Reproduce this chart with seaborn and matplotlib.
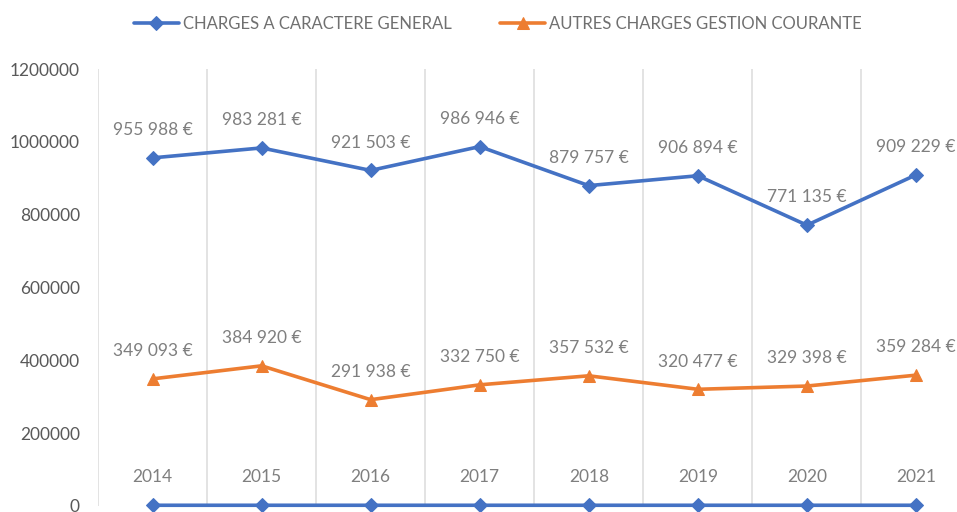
import numpy as np
import pandas as pd
import matplotlib
matplotlib.use("Agg")
import matplotlib.pyplot as plt
import seaborn as sns

# data
years = [2014, 2015, 2016, 2017, 2018, 2019, 2020, 2021]
charges_generales = [955988, 983281, 921503, 986946, 879757, 906894, 771135, 909229]
autres_charges = [349093, 384920, 291938, 332750, 357532, 320477, 329398, 359284]
y_ticks = [0, 200000, 400000, 600000, 800000, 1000000, 1200000]

label_1 = "CHARGES A CARACTERE GENERAL"
label_2 = "AUTRES CHARGES GESTION COURANTE"

blue = "#4472C4"
orange = "#ED7D31"
grey_txt = "#7F7F7F"

sns.set_style("white")
plt.rcParams["font.family"] = ["Lato", "DejaVu Sans"]

df = pd.DataFrame({
    "pos": np.arange(len(years)),
    "annee": years,
    "generales": charges_generales,
    "autres": autres_charges,
})

fig = plt.figure(figsize=(9.57, 5.12), dpi=100)
# plot area runs a bit past the right edge like the cropped original
ax = fig.add_axes([98 / 957, 6 / 512, 872.5 / 957, 437 / 512])

sns.lineplot(data=df, x="pos", y="generales", ax=ax, color=blue, marker="D",
             markersize=7, markeredgecolor=blue, linewidth=2.6, label=label_1)
sns.lineplot(data=df, x="pos", y="autres", ax=ax, color=orange, marker="^",
             markersize=9, markeredgecolor=orange, linewidth=2.6, label=label_2)
# the year column ended up plotted as a series too
sns.lineplot(data=df, x="pos", y="annee", ax=ax, color=blue, marker="D",
             markersize=7, markeredgecolor=blue, linewidth=2.6, legend=False)
for ln in ax.lines:
    ln.set_clip_on(False)


def fmt_eur(v):
    return f"{v:,}".replace(",", " ") + " €"


for i, row in df.iterrows():
    ax.annotate(fmt_eur(row["generales"]), (row["pos"], row["generales"]),
                xytext=(0, 20), textcoords="offset points", ha="center",
                va="center", fontsize=12.5, color=grey_txt)
    ax.annotate(fmt_eur(row["autres"]), (row["pos"], row["autres"]),
                xytext=(0, 20), textcoords="offset points", ha="center",
                va="center", fontsize=12.5, color=grey_txt)
    ax.annotate(str(row["annee"]), (row["pos"], row["annee"]),
                xytext=(0, 20), textcoords="offset points", ha="center",
                va="center", fontsize=12.5, color=grey_txt)

ax.set_xlim(-0.5, len(years) - 0.5)
ax.set_ylim(0, 1200000)
ax.set_yticks(y_ticks)
ax.set_yticklabels([str(t) for t in y_ticks])
ax.set_xticks([])
ax.set_xticks(np.arange(-0.5, len(years), 1), minor=True)
ax.grid(True, which="minor", axis="x", color="#DEDEDE", linewidth=1.2)
ax.tick_params(axis="y", length=0, pad=13, labelsize=12.5, labelcolor="#595959")
ax.tick_params(axis="x", which="minor", length=0)
ax.set_xlabel("")
ax.set_ylabel("")
for s in ax.spines.values():
    s.set_visible(False)

ax.get_legend().remove()
h, l = ax.get_legend_handles_labels()
fig.legend(h[:2], l[:2], loc="center", bbox_to_anchor=(498 / 957, 1 - 24 / 512),
           ncol=2, frameon=False, fontsize=12, handlelength=2.7,
           handletextpad=0.25, columnspacing=2.9, labelcolor="#707070")

fig.savefig("out.png", dpi=100)
